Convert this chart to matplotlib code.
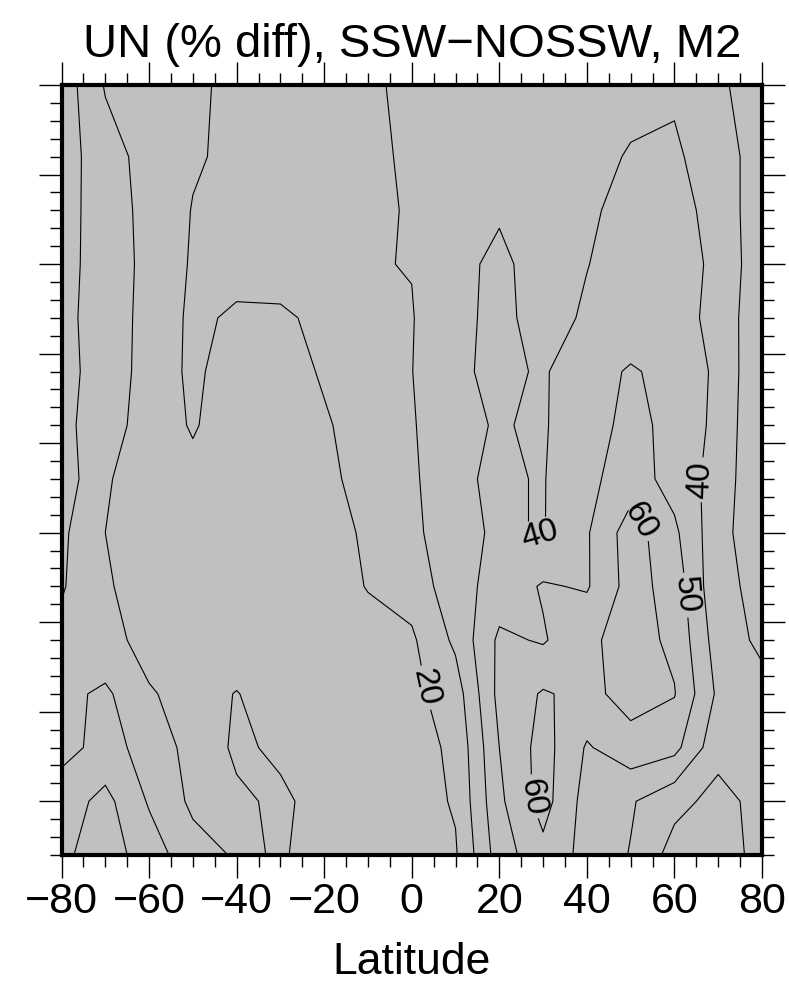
import numpy as np
import matplotlib
matplotlib.use("Agg")
import matplotlib.pyplot as plt
from matplotlib.ticker import MultipleLocator

plt.rcParams['font.family'] = ['Liberation Sans', 'DejaVu Sans']

# grid: latitude columns, height rows (top -> bottom)
lat = [-80, -70, -60, -50, -40, -30, -20, -10, 0, 10, 20, 30, 40, 50, 60, 70, 80]
alt = [100, 92, 86, 80, 74, 68, 62, 56, 50, 44, 38, 32, 26, 20, 14]

un_100 = [-6, 10.8, 15, 18.8, 21.6, 24, 26.3, 28.6, 32, 34, 35, 36, 37, 38, 38, 31, 27]
un_92 = [-5, 6, 13.5, 19, 22, 24.4, 26.6, 28.6, 31, 34, 36, 37, 38, 40.5, 42, 33, 27]
un_86 = [-4, 5, 13, 20.4, 23, 25.3, 27.5, 29.5, 30.2, 35, 39, 38, 39, 42, 43, 37, 23]
un_80 = [-3, 4, 13, 21, 23.5, 25.8, 27.8, 29.5, 30.3, 37.5, 42, 36, 39.8, 43, 44, 38, 23]
un_74 = [-3, 5, 13, 22, 18.5, 18, 23, 27, 29.5, 38, 42, 37, 41, 44, 44, 37, 22]
un_68 = [-3, 4, 14, 22, 15, 16, 21, 26, 29.8, 38.5, 42, 39, 46, 51, 47, 38, 21]
un_62 = [-3, 6, 14, 21, 14, 15, 19, 24, 29, 38.5, 40.5, 39, 47, 52, 48, 37, 21]
un_56 = [-6, 9, 15, 17, 15, 15, 18, 23, 28, 39, 41, 39.5, 47.5, 55, 46, 36, 21]
un_50 = [-2, 10, 14.5, 15, 14, 14, 16, 21.5, 27, 38, 41, 39.5, 49, 65, 52, 33, 24]
un_44 = [-1, 9, 14, 14, 14, 14, 15, 20.5, 24, 36, 44, 51, 49, 64, 56, 32, 28]
un_38 = [3, 8, 12, 13, 13, 13, 14, 16, 18.5, 32, 52, 49, 58, 64, 58, 35, 28]
un_32 = [3, -2, 9.5, 12, 9.8, 12.5, 13.5, 15, 17.5, 25, 53, 61, 57, 64, 60.5, 38, 33]
un_26 = [3, -3, 3, 14, 9, 11, 13, 14.5, 16, 22, 50, 64, 49, 56, 53, 33, 35]
un_20 = [-5, -13, 1, 12, 11, 9, 12, 14, 15.5, 21, 48, 64, 46, 41, 33, 27, 33]
un_14 = [-8, -15, -5, 6, 11, 9.5, 12, 14, 16, 19, 45, 57, 46.7, 39.5, 26, 27, 32]

levels = [-10, 0, 10, 20, 30, 40, 50, 60]

# where the annotated contours carry their numbers
label_spots = {
    20: [(4.5, 32.8)],
    40: [(28, 46), (65.5, 55.9)],
    50: [(62, 43)],
    60: [(27.7, 20.5), (51, 51)],
}

Z = np.array([un_100, un_92, un_86, un_80, un_74, un_68, un_62, un_56,
              un_50, un_44, un_38, un_32, un_26, un_20, un_14])
Z = np.flipud(Z)
alt_up = np.array(alt[::-1])

fig = plt.figure(figsize=(7.89, 9.84), dpi=100)
ax = fig.add_axes([61.5 / 789, 129 / 984, 700.5 / 789, 770 / 984])
ax.set_facecolor('#c0c0c0')
ax.set_xlim(-80, 80)
ax.set_ylim(14, 100)

# one contour set per level so each can be annotated on its own
for lev in levels:
    cs = ax.contour(lat, alt_up, Z, levels=[lev], colors='black',
                    linewidths=0.8, linestyles='solid')
    if lev in label_spots:
        ax.clabel(cs, fontsize=24, fmt='%d', inline=True, inline_spacing=4,
                  manual=label_spots[lev])

ax.xaxis.set_major_locator(MultipleLocator(20))
ax.xaxis.set_minor_locator(MultipleLocator(5))
ax.yaxis.set_major_locator(MultipleLocator(10))
ax.yaxis.set_minor_locator(MultipleLocator(2))
ax.tick_params(which='both', direction='out', top=True, right=True, width=1, color='black')
ax.tick_params(which='major', length=16.5)
ax.tick_params(which='minor', length=8.5)
ax.tick_params(axis='y', labelleft=False)
ax.tick_params(axis='x', labelsize=31, pad=3)
for sp in ax.spines.values():
    sp.set_linewidth(3)

ax.set_title("UN (% diff), SSW\u2212NOSSW, M2", fontsize=34, y=1.0, pad=20)
ax.set_xlabel("Latitude", fontsize=32, labelpad=14)

fig.savefig("out.png", dpi=100)
